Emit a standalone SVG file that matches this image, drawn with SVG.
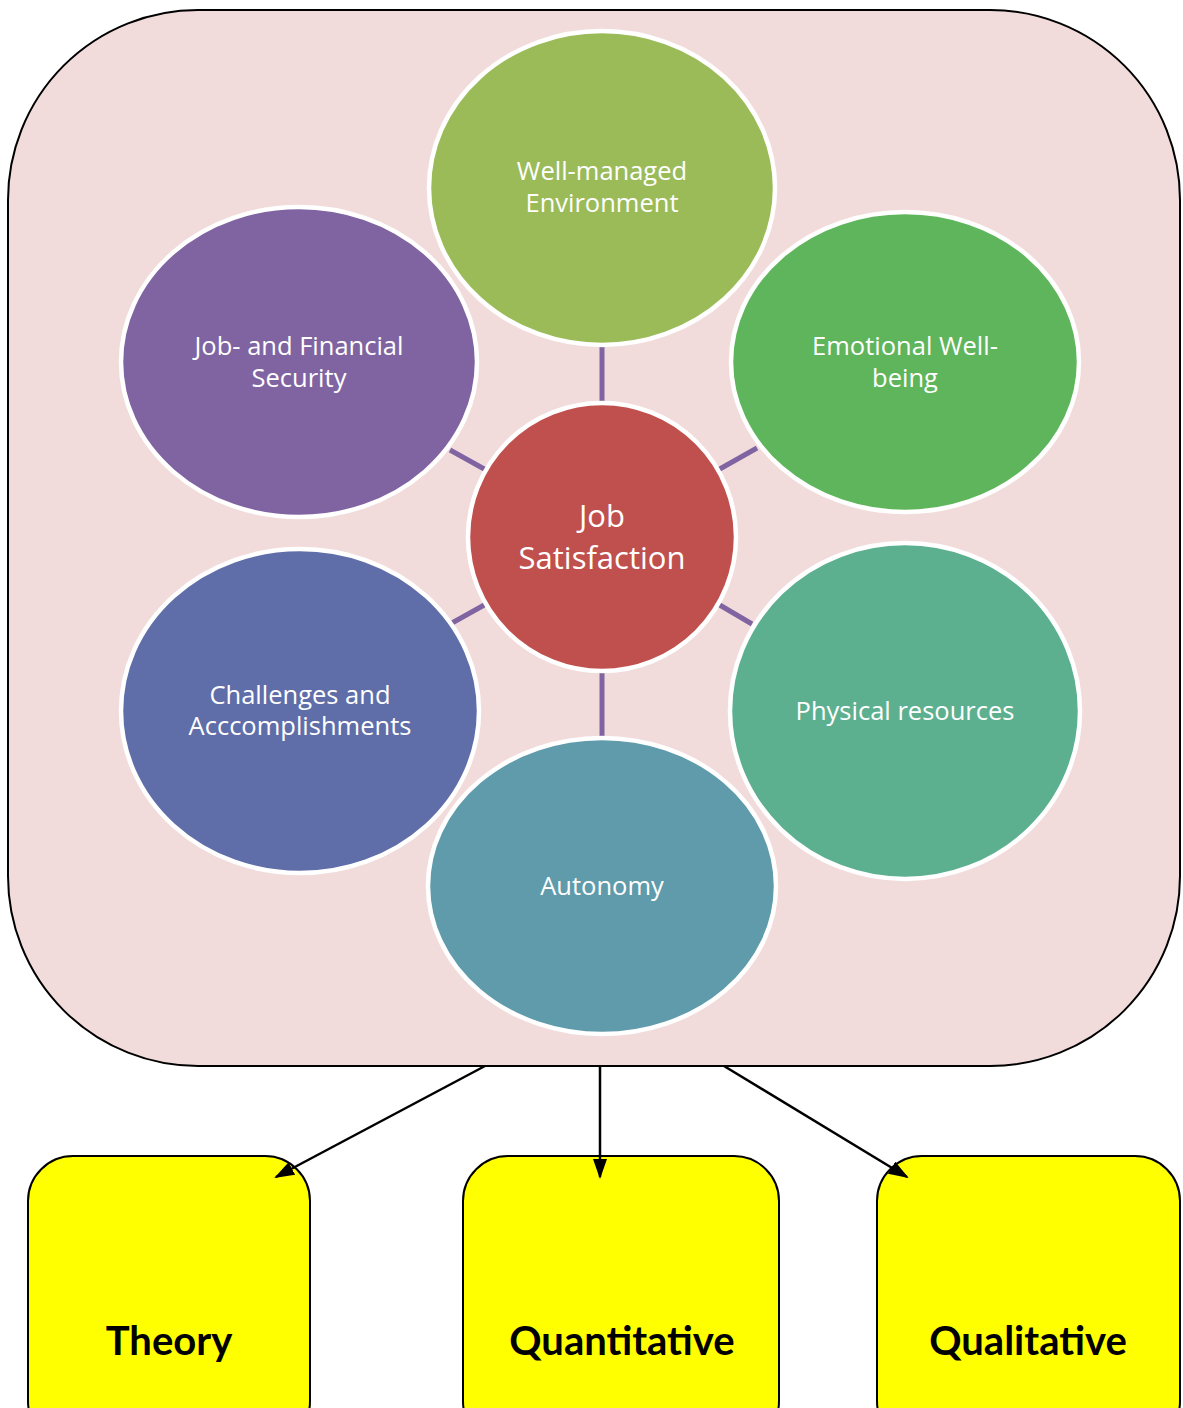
<svg xmlns="http://www.w3.org/2000/svg" width="1183" height="1408" viewBox="0 0 1183 1408">
<style>
.node{stroke:#fff;stroke-width:4.5}
.lbl{font-family:"Open Sans","Noto Sans",sans-serif;font-size:25.5px;fill:#fff;text-anchor:middle}
.big{font-size:31px}
.spoke{stroke:#8064A2;stroke-width:5}
.arrow{stroke:#000;stroke-width:2.5;fill:none;marker-end:url(#ah)}
.box{fill:#ffff00;stroke:#000;stroke-width:2}
.blbl{font-family:Lato,"Liberation Sans",sans-serif;font-weight:bold;font-size:40px;fill:#000;text-anchor:middle}
</style>
<defs>
<marker id="ah" markerWidth="20" markerHeight="14" refX="18" refY="7" orient="auto" markerUnits="userSpaceOnUse" viewBox="0 0 20 14">
<path d="M0,0 L20,7 L0,14 z" fill="#000"/>
</marker>
</defs>
<rect width="1183" height="1408" fill="#fff"/>
<g id="frame"><rect x="8" y="10" width="1172" height="1056" rx="190" ry="190" fill="#F2DCDB" stroke="#000" stroke-width="2"/></g>
<g id="spokes">
<line class="spoke" x1="602" y1="347" x2="602" y2="402"/>
<line class="spoke" x1="602" y1="672" x2="602" y2="736"/>
<line class="spoke" x1="450" y1="450" x2="486" y2="470"/>
<line class="spoke" x1="718" y1="470" x2="757" y2="448"/>
<line class="spoke" x1="452" y1="623" x2="486" y2="604"/>
<line class="spoke" x1="718" y1="604" x2="752" y2="624"/>
</g>
<g id="well-managed"><ellipse class="node" cx="602" cy="188" rx="173" ry="157" fill="#9BBB59"/><text class="lbl" x="602" y="180">Well-managed</text><text class="lbl" x="602" y="212">Environment</text></g>
<g id="job-financial"><ellipse class="node" cx="299" cy="362" rx="178" ry="155" fill="#8064A2"/><text class="lbl" x="299" y="355">Job- and Financial</text><text class="lbl" x="299" y="387">Security</text></g>
<g id="emotional"><ellipse class="node" cx="905" cy="362" rx="174" ry="150" fill="#5FB55C"/><text class="lbl" x="905" y="355">Emotional Well-</text><text class="lbl" x="905" y="387">being</text></g>
<g id="challenges"><ellipse class="node" cx="300" cy="711" rx="179" ry="162" fill="#5F6EA8"/><text class="lbl" x="300" y="704">Challenges and</text><text class="lbl" x="300" y="735">Acccomplishments</text></g>
<g id="physical"><ellipse class="node" cx="905" cy="711" rx="175" ry="168" fill="#5DB08F"/><text class="lbl" x="905" y="720">Physical resources</text></g>
<g id="autonomy"><ellipse class="node" cx="602" cy="886" rx="174" ry="148" fill="#5F9BAB"/><text class="lbl" x="602" y="895">Autonomy</text></g>
<g id="job-satisfaction"><ellipse class="node" cx="602" cy="537" rx="134" ry="134" fill="#C0504D"/><text class="lbl big" x="602" y="527">Job</text><text class="lbl big" x="602" y="569">Satisfaction</text></g>
<g id="theory"><rect class="box" x="28" y="1156" width="282" height="290" rx="45"/><text class="blbl" x="169" y="1355">Theory</text></g>
<g id="quantitative"><rect class="box" x="463" y="1156" width="316" height="290" rx="45"/><text class="blbl" x="622" y="1355">Quantitative</text></g>
<g id="qualitative"><rect class="box" x="877" y="1156" width="303" height="290" rx="45"/><text class="blbl" x="1028" y="1355">Qualitative</text></g>
<g id="connectors">
<line class="arrow" x1="485" y1="1066" x2="276" y2="1177"/>
<line class="arrow" x1="600" y1="1066" x2="600" y2="1177"/>
<line class="arrow" x1="724" y1="1066" x2="907" y2="1177"/>
</g>
</svg>
